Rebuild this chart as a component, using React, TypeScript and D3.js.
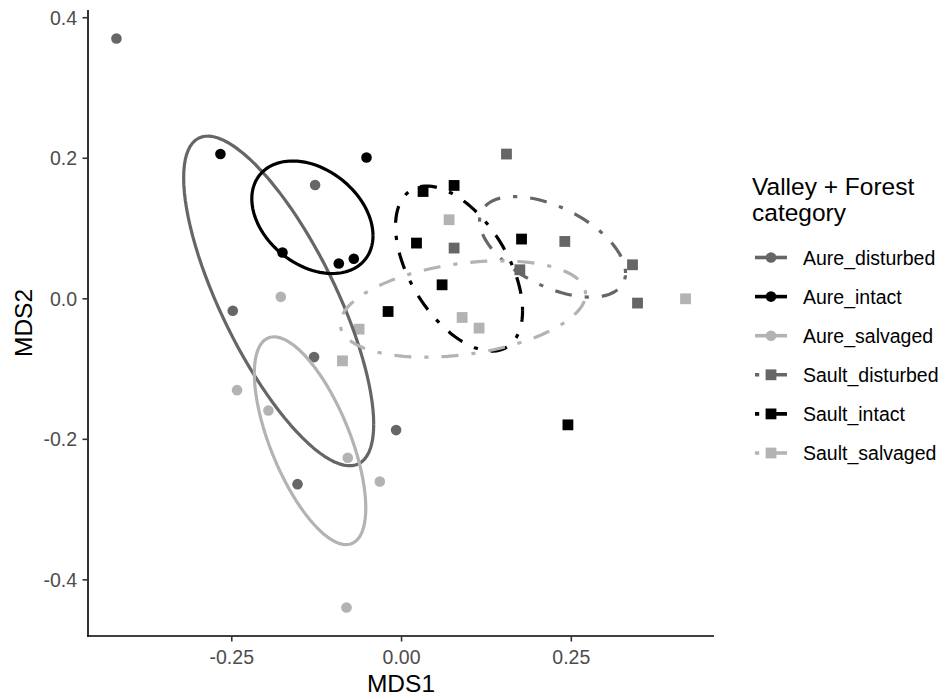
import React, { useMemo } from "react";
import * as d3 from "d3";

type Pt = [number, number];

const groups = ["Aure_disturbed", "Aure_intact", "Aure_salvaged", "Sault_disturbed", "Sault_intact", "Sault_salvaged"];
const groupColors = ["#666666", "#000000", "#b3b3b3", "#666666", "#000000", "#b3b3b3"];
const groupShapes = ["circle", "circle", "circle", "square", "square", "square"];
const groupLines = ["solid", "solid", "solid", "dotdash", "dotdash", "dotdash"];

const aureDisturbed: Pt[] = [
  [-0.4198, 0.3705], [-0.1273, 0.1619], [-0.2485, -0.0171], [-0.1288, -0.083], [-0.008, -0.1869], [-0.1532, -0.2638],
];
const aureIntact: Pt[] = [
  [-0.2667, 0.206], [-0.0516, 0.2011], [-0.1753, 0.0659], [-0.0924, 0.0503], [-0.0703, 0.0569],
];
const aureSalvaged: Pt[] = [
  [-0.1778, 0.0028], [-0.2422, -0.13], [-0.196, -0.159], [-0.0792, -0.2263], [-0.032, -0.2601], [-0.0811, -0.4394],
];
const saultDisturbed: Pt[] = [
  [0.1545, 0.206], [0.0774, 0.0722], [0.2404, 0.0816], [0.1742, 0.0413], [0.3401, 0.0484], [0.3475, -0.0061],
];
const saultIntact: Pt[] = [
  [0.0774, 0.1613], [0.0317, 0.1527], [0.022, 0.0793], [0.1767, 0.085], [0.0597, 0.0199], [-0.0198, -0.0181], [0.245, -0.1794],
];
const saultSalvaged: Pt[] = [
  [0.07, 0.1125], [0.0892, -0.0266], [0.1142, -0.0417], [-0.0625, -0.0432], [-0.087, -0.0883], [0.4182, 0.0],
];
const groupData: Pt[][] = [aureDisturbed, aureIntact, aureSalvaged, saultDisturbed, saultIntact, saultSalvaged];

const xTicks = [-0.25, 0, 0.25];
const xTickLabels = ["-0.25", "0.00", "0.25"];
const yTicks = [-0.4, -0.2, 0, 0.2, 0.4];
const yTickLabels = ["-0.4", "-0.2", "0.0", "0.2", "0.4"];
const xTitle = "MDS1";
const yTitle = "MDS2";
const legendTitle = ["Valley + Forest", "category"];

// standard-deviation ellipse (vegan ordiellipse kind = "sd", scale 1)
function covEllipse(pts: Pt[], scale = 1, npoints = 100): Pt[] {
  const n = pts.length;
  const mx = d3.mean(pts, (d) => d[0])!;
  const my = d3.mean(pts, (d) => d[1])!;
  let a = 0, b = 0, c = 0;
  pts.forEach((d) => {
    const dx = d[0] - mx, dy = d[1] - my;
    a += dx * dx;
    b += dx * dy;
    c += dy * dy;
  });
  a /= n - 1;
  b /= n - 1;
  c /= n - 1;
  const r11 = Math.sqrt(a);
  const r12 = b / r11;
  const r22 = Math.sqrt(c - r12 * r12);
  const out: Pt[] = [];
  for (let k = 0; k <= npoints; k++) {
    const t = (k * 2 * Math.PI) / npoints;
    const ct = Math.cos(t), st = Math.sin(t);
    out.push([mx + scale * ct * r11, my + scale * (ct * r12 + st * r22)]);
  }
  return out;
}

const DASH = "4.2 13 17 13";

export default function App() {
  const W = 946, H = 700;
  const panel = { left: 88, right: 714, top: 10, bottom: 636 };

  const all = groupData.flat();
  const xe = d3.extent(all, (d) => d[0]) as [number, number];
  const ye = d3.extent(all, (d) => d[1]) as [number, number];
  const xp = (xe[1] - xe[0]) * 0.05;
  const yp = (ye[1] - ye[0]) * 0.05;
  const x = d3.scaleLinear().domain([xe[0] - xp, xe[1] + xp]).range([panel.left, panel.right]);
  const y = d3.scaleLinear().domain([ye[0] - yp, ye[1] + yp]).range([panel.bottom, panel.top]);

  const ellipses = useMemo(() => groupData.map((g) => covEllipse(g)), []);
  const line = d3.line<Pt>().x((d) => x(d[0])).y((d) => y(d[1]));

  const font = "'Liberation Sans', Arial, sans-serif";
  const small = 19.5;
  const big = 24.5;
  const ptR = 5.3;
  const sq = 10.8;

  const legendX = 752;
  const keyX0 = 755, keyX1 = 787, keyC = 771;
  const rowY = (i: number) => 257.5 + i * 39.1;

  const marker = (shape: string, cx: number, cy: number, color: string, key: string) =>
    shape === "circle" ? (
      <circle key={key} cx={cx} cy={cy} r={ptR} fill={color} />
    ) : (
      <rect key={key} x={cx - sq / 2} y={cy - sq / 2} width={sq} height={sq} fill={color} />
    );

  return (
    <svg width={W} height={H} style={{ position: "absolute", left: 0, top: 0, background: "#fff" }} fontFamily={font}>
      <rect x={0} y={0} width={W} height={H} fill="#fff" />
      {groupData.map((g, gi) =>
        g.map((d, i) => marker(groupShapes[gi], x(d[0]), y(d[1]), groupColors[gi], `p${gi}-${i}`))
      )}
      {ellipses.map((e, gi) => (
        <path
          key={`e${gi}`}
          d={line(e) || ""}
          fill="none"
          stroke={groupColors[gi]}
          strokeWidth={3.2}
          strokeDasharray={groupLines[gi] === "dotdash" ? DASH : undefined}
          strokeLinecap="butt"
          strokeLinejoin="round"
        />
      ))}
      <line x1={panel.left} x2={panel.left} y1={panel.top} y2={panel.bottom + 0.8} stroke="#000" strokeWidth={1.6} />
      <line x1={panel.left - 0.8} x2={panel.right} y1={panel.bottom} y2={panel.bottom} stroke="#000" strokeWidth={1.6} />
      {xTicks.map((t, i) => (
        <g key={`xt${i}`}>
          <line x1={x(t)} x2={x(t)} y1={panel.bottom} y2={panel.bottom + 5.5} stroke="#333" strokeWidth={1.6} />
          <text x={x(t)} y={panel.bottom + 28} textAnchor="middle" fontSize={small} fill="#4d4d4d">
            {xTickLabels[i]}
          </text>
        </g>
      ))}
      {yTicks.map((t, i) => (
        <g key={`yt${i}`}>
          <line x1={panel.left - 5.5} x2={panel.left} y1={y(t)} y2={y(t)} stroke="#333" strokeWidth={1.6} />
          <text x={panel.left - 11} y={y(t) + 7} textAnchor="end" fontSize={small} fill="#4d4d4d">
            {yTickLabels[i]}
          </text>
        </g>
      ))}
      <text x={(panel.left + panel.right) / 2} y={692} textAnchor="middle" fontSize={big} fill="#000">
        {xTitle}
      </text>
      <text
        transform={`translate(32, ${(panel.top + panel.bottom) / 2}) rotate(-90)`}
        textAnchor="middle"
        fontSize={big}
        fill="#000"
      >
        {yTitle}
      </text>
      {legendTitle.map((t, i) => (
        <text key={`lt${i}`} x={legendX} y={195 + i * 26} fontSize={big} fill="#000">
          {t}
        </text>
      ))}
      {groups.map((g, gi) => (
        <g key={`lg${gi}`}>
          <line
            x1={keyX0}
            x2={keyX1}
            y1={rowY(gi)}
            y2={rowY(gi)}
            stroke={groupColors[gi]}
            strokeWidth={3.6}
            strokeDasharray={groupLines[gi] === "dotdash" ? DASH : undefined}
          />
          {marker(groupShapes[gi], keyC, rowY(gi), groupColors[gi], `lm${gi}`)}
          <text x={803} y={rowY(gi) + 7} fontSize={small} fill="#000">
            {g}
          </text>
        </g>
      ))}
    </svg>
  );
}
